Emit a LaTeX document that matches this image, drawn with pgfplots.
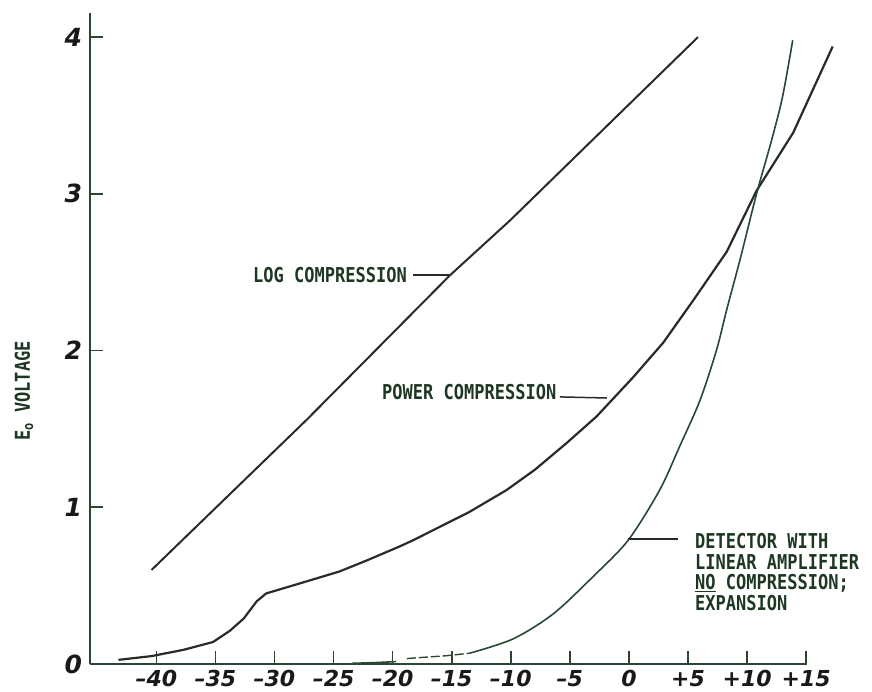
\documentclass[border=0pt]{standalone}
\usepackage{pgfplots}
\pgfplotsset{compat=1.18}
\usepackage{fontspec}
\setmainfont{DejaVu Sans}
\newfontfamily\lettering[FakeStretch=0.83]{DejaVu Sans Mono}
\newfontfamily\hand{DejaVu Sans}
\newcommand{\lab}{\fontsize{20.5}{20.7}\selectfont\lettering\bfseries}
\definecolor{ink}{RGB}{38,44,40}
\definecolor{inkgreen}{RGB}{40,72,52}
\definecolor{axisc}{RGB}{45,70,50}
\definecolor{txt}{RGB}{30,55,35}
\begin{document}
\begin{tikzpicture}
\begin{axis}[
  x=11.816pt, y=156.7pt,
  xmin=-45.6, xmax=15.1, ymin=0, ymax=4.155,
  axis x line=bottom, axis y line=left,
  axis line style={-, draw=axisc, line width=2pt},
  clip=false,
  xtick={-40,-35,-30,-25,-20,-15,-10,-5,0,5,10,15},
  xticklabels={{\textendash40},{\textendash35},{\textendash30},{\textendash25},{\textendash20},{\textendash15},{\textendash10},{\textendash5},0,+5,+10,+15},
  ytick={0,1,2,3,4},
  yticklabels={0,1,2,3,4},
  tick align=inside,
  major tick length=13pt,
  tick style={draw=axisc, line width=1.6pt},
  xticklabel style={font=\fontsize{22}{22}\selectfont\hand\bfseries\itshape, anchor=north, inner sep=0pt, yshift=-6pt, text=black!90},
  yticklabel style={font=\fontsize{25}{25}\selectfont\hand\bfseries\itshape, anchor=east, inner sep=0pt, xshift=-8pt, text=black!90},
]
% LOG COMPRESSION
\addplot[ink, line width=2pt] coordinates {
  (-40.4,0.60) (-27.25,1.56) (-15.15,2.48) (-10.07,2.83) (5.84,4.0)
};
% POWER COMPRESSION
\addplot[ink, line width=2.2pt] coordinates {
  (-43.2,0.026) (-40.4,0.05) (-37.7,0.09) (-35.2,0.14) (-33.8,0.21)
  (-32.6,0.29) (-31.5,0.40) (-30.7,0.45) (-27.8,0.515) (-24.5,0.59)
  (-22.2,0.66) (-19.4,0.75) (-18.25,0.79) (-13.5,0.97) (-10.35,1.11)
  (-7.95,1.24) (-5.27,1.41) (-2.73,1.58) (0.36,1.83) (2.9,2.05)
  (5.44,2.32) (8.27,2.63) (10.8,3.02) (13.9,3.39) (17.24,3.94)
};
% DETECTOR WITH LINEAR AMPLIFIER
\addplot[inkgreen, line width=1.6pt] coordinates {
  (-23.4,0.004) (-21.6,0.008) (-19.7,0.015)
};
\addplot[inkgreen, line width=1.4pt, dash pattern=on 9pt off 3pt] coordinates {
  (-18.8,0.034) (-17.8,0.04) (-15.5,0.052) (-13.5,0.068)
};
\addplot[inkgreen, line width=1.6pt, smooth, tension=0.5] coordinates {
  (-13.5,0.068) (-9.8,0.16) (-6.4,0.32) (-3.0,0.56) (-0.06,0.79)
  (2.6,1.11) (4.3,1.39) (6.0,1.68) (7.4,2.0) (8.27,2.26) (9.4,2.58)
  (10.8,3.0) (12.1,3.35) (13.0,3.62) (13.86,3.98)
};
% annotations
\node[anchor=base west, inner sep=0pt, text=txt, font=\lab] at (axis cs:-31.82,2.435) {LOG COMPRESSION};
\draw[ink, line width=1.5pt] (axis cs:-18.28,2.482) -- (axis cs:-15.2,2.482);
\node[anchor=base west, inner sep=0pt, text=txt, font=\lab] at (axis cs:-20.90,1.688) {POWER COMPRESSION};
\draw[ink, line width=1.5pt] (axis cs:-5.84,1.704) -- (axis cs:-1.86,1.697);
\node[anchor=base west, inner sep=0pt, text=txt, font=\lab] at (axis cs:5.586,0.738) {DETECTOR WITH};
\node[anchor=base west, inner sep=0pt, text=txt, font=\lab] at (axis cs:5.586,0.604) {LINEAR AMPLIFIER};
\node[anchor=base west, inner sep=0pt, text=txt, font=\lab] at (axis cs:5.586,0.477) {\underline{NO} COMPRESSION;};
\node[anchor=base west, inner sep=0pt, text=txt, font=\lab] at (axis cs:5.586,0.343) {EXPANSION};
\draw[ink, line width=1.5pt] (axis cs:-0.08,0.798) -- (axis cs:4.15,0.798);
\node[rotate=90, anchor=center, inner sep=0pt, text=txt, font=\lab] at (axis cs:-51.2,1.742) {E\textsubscript{o} VOLTAGE};
\coordinate (bl) at (axis cs:-53.23,-0.1787);
\coordinate (tr) at (axis cs:20.57,4.237);
\end{axis}
\pgfresetboundingbox
\path (bl) rectangle (tr);
\end{tikzpicture}
\end{document}
